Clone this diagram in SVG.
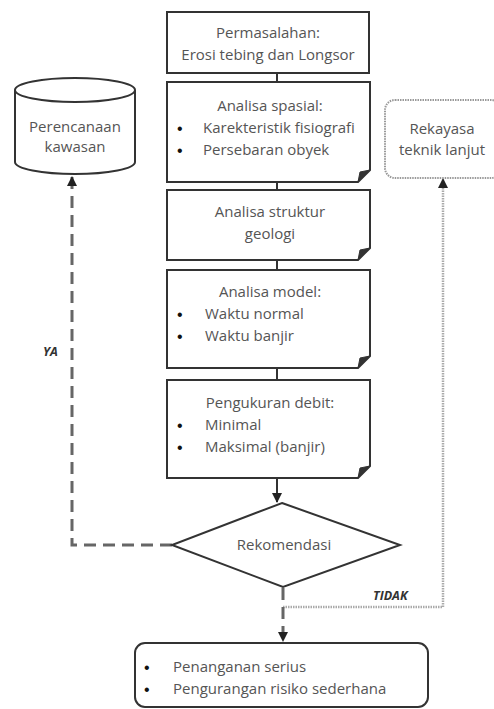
<svg xmlns="http://www.w3.org/2000/svg" width="494" height="709" viewBox="0 0 494 709">
<defs>
<style>
.box{fill:#fff;stroke:#333;stroke-width:2}
.fold{fill:#333;stroke:#333;stroke-width:1}
.t{font-family:"Open Sans","Noto Sans","Liberation Sans",sans-serif;font-size:15px;fill:#555}
.c{text-anchor:middle}
.b{font-family:"Liberation Sans",sans-serif;font-size:16px;fill:#111}
.lbl{font-family:"Open Sans","Liberation Sans",sans-serif;font-size:12.5px;font-weight:bold;font-style:italic;fill:#333}
.solid{fill:none;stroke:#333;stroke-width:2}
.dash{fill:none;stroke:#666;stroke-width:3;stroke-dasharray:12 7}
.dot{fill:none;stroke:#aaa;stroke-width:2.5;stroke-dasharray:1.5 1}
</style>
<marker id="ah" viewBox="0 0 10 10" refX="9" refY="5" markerWidth="10" markerHeight="10" markerUnits="userSpaceOnUse" orient="auto">
<path d="M0,0 L10,5 L0,10 Z" fill="#222"/>
</marker>
</defs>
<rect width="494" height="709" fill="#fff"/>

<g id="connectors">
<line class="solid" x1="277" y1="73" x2="277" y2="82"/>
<line class="solid" x1="277" y1="182" x2="277" y2="190"/>
<line class="solid" x1="277" y1="260" x2="277" y2="270"/>
<line class="solid" x1="277" y1="368" x2="277" y2="380"/>
<line class="solid" x1="277" y1="478" x2="277" y2="502" marker-end="url(#ah)"/>
<path class="dash" d="M172,545 H72 V177" marker-end="url(#ah)"/>
<path class="dot" d="M283,607 H443 V179" marker-end="url(#ah)"/>
<path class="dash" d="M283,588 V641" marker-end="url(#ah)"/>
<text class="lbl" x="43" y="356">YA</text>
<text class="lbl" x="373" y="600">TIDAK</text>
</g>

<g id="n1">
<rect class="box" x="167" y="12" width="202" height="61"/>
<text class="t c" x="268" y="38">Permasalahan:</text>
<text class="t c" x="268" y="60">Erosi tebing dan Longsor</text>
</g>

<g id="n2">
<path class="box" d="M167,82 H370 V170 L358,182 H167 Z"/>
<path class="fold" d="M370,170 L358,182 L360,172 Z"/>
<text class="t c" x="270" y="111">Analisa spasial:</text>
<text class="b" x="177" y="134">•</text>
<text class="t" x="203" y="133">Karekteristik fisiografi</text>
<text class="b" x="177" y="156">•</text>
<text class="t" x="203" y="155">Persebaran obyek</text>
</g>

<g id="n3">
<path class="box" d="M167,190 H370 V248 L358,260 H167 Z"/>
<path class="fold" d="M370,248 L358,260 L360,250 Z"/>
<text class="t c" x="270" y="217">Analisa struktur</text>
<text class="t c" x="270" y="239">geologi</text>
</g>

<g id="n4">
<path class="box" d="M167,270 H370 V356 L358,368 H167 Z"/>
<path class="fold" d="M370,356 L358,368 L360,358 Z"/>
<text class="t c" x="270" y="297">Analisa model:</text>
<text class="b" x="177" y="320">•</text>
<text class="t" x="205" y="319">Waktu normal</text>
<text class="b" x="177" y="342">•</text>
<text class="t" x="205" y="341">Waktu banjir</text>
</g>

<g id="n5">
<path class="box" d="M167,380 H370 V466 L358,478 H167 Z"/>
<path class="fold" d="M370,466 L358,478 L360,468 Z"/>
<text class="t c" x="270" y="408">Pengukuran debit:</text>
<text class="b" x="177" y="431">•</text>
<text class="t" x="205" y="430">Minimal</text>
<text class="b" x="177" y="453">•</text>
<text class="t" x="205" y="452">Maksimal (banjir)</text>
</g>

<g id="n6">
<polygon class="box" points="282,503 400,545 283,587 172,545"/>
<text class="t c" x="284" y="550">Rekomendasi</text>
</g>

<g id="n7">
<path class="box" d="M15,90 V162 A60,12 0 0 0 135,162 V90"/>
<ellipse class="box" cx="75" cy="90" rx="60" ry="12"/>
<text class="t c" x="75" y="132">Perencanaan</text>
<text class="t c" x="75" y="152">kawasan</text>
</g>

<g id="n8">
<rect x="385" y="100" width="116" height="78" rx="10" fill="#fff" stroke="#999" stroke-width="2" stroke-dasharray="1.5 1"/>
<text class="t c" x="442" y="134">Rekayasa</text>
<text class="t c" x="442" y="155">teknik lanjut</text>
</g>

<g id="n9">
<rect class="box" x="135" y="643" width="293" height="64" rx="10"/>
<text class="b" x="144" y="673">•</text>
<text class="t" x="173" y="672">Penanganan serius</text>
<text class="b" x="144" y="695">•</text>
<text class="t" x="173" y="694">Pengurangan risiko sederhana</text>
</g>
</svg>
